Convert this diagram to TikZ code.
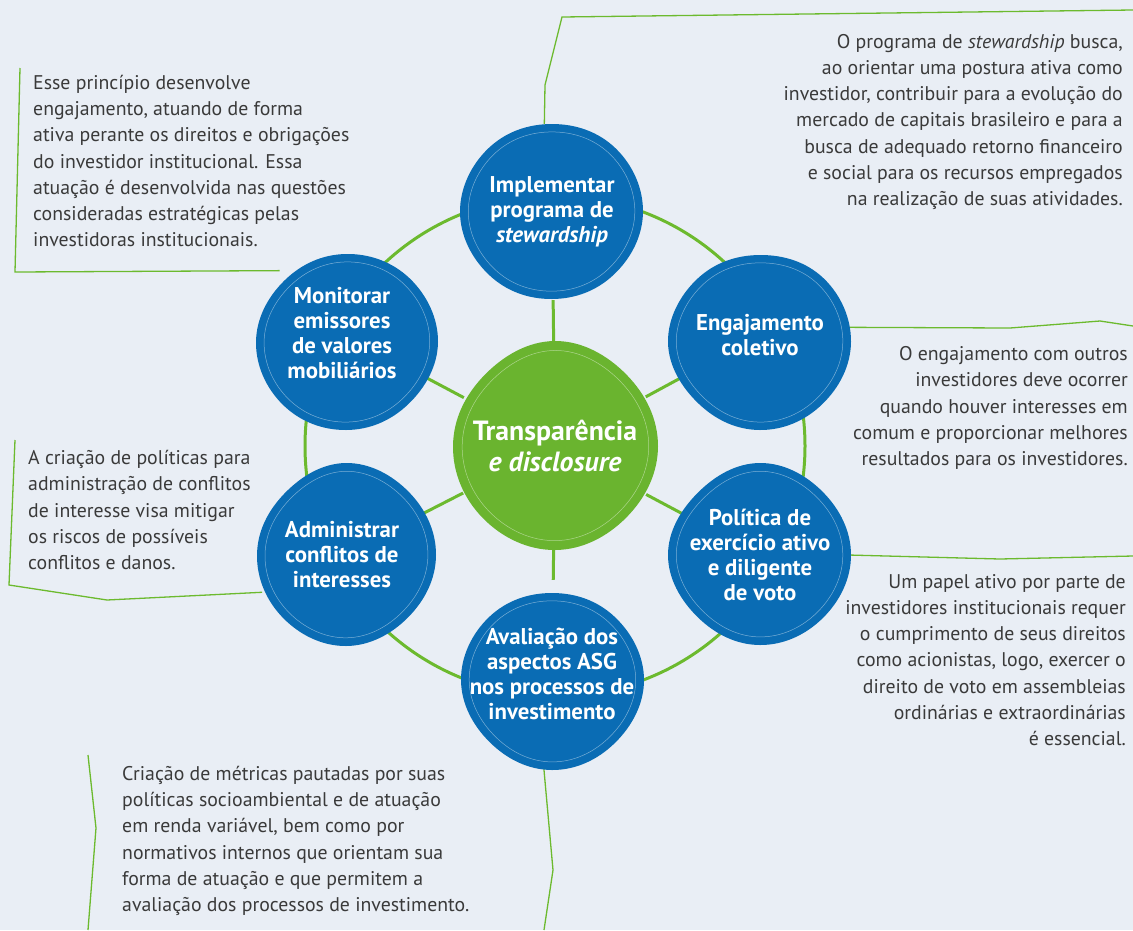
\documentclass[tikz,border=0pt]{standalone}
\usepackage{fontspec}
\setmainfont{PT Sans}
\usetikzlibrary{backgrounds}

\definecolor{paper}{HTML}{E9EEF5}
\definecolor{blobblue}{HTML}{0A6CB4}
\definecolor{blobgreen}{HTML}{6AB42F}
\definecolor{linegreen}{HTML}{6CBA2E}
\definecolor{textgrey}{HTML}{3A3A3A}

% irregular round shape behind a node
\newcommand{\blobshape}[4][]{%
  \begin{scope}[shift={(#2)}, #1]
    \fill[#3] plot[smooth cycle, tension=0.68] coordinates {#4};
    \draw[white, opacity=0.45, line width=0.5pt, scale=0.91] plot[smooth cycle, tension=0.68] coordinates {#4};
  \end{scope}}

\begin{document}
\begin{tikzpicture}[x=1pt, y=-1pt,
  blob/.style={circle, minimum size=176pt, inner sep=0pt, align=center, text=white,
    font=\fontsize{22.8}{25}\selectfont\bfseries},
  desc/.style={inner sep=0pt, text=textgrey, font=\fontsize{19.8}{26.3}\selectfont},
  spoke/.style={draw=linegreen, line width=3pt},
  leader/.style={draw=linegreen, line width=1.3pt}]
\useasboundingbox (0,0) rectangle (1133,930);

% hub and principles
\node[blob, minimum size=206pt, font=\fontsize{27.8}{31}\selectfont\bfseries] (ctr) at (555,446) {Transparência\\ \textit{e disclosure}};
\node[blob] (impl) at (552,212) {Implementar\\ programa de\\ \textit{stewardship}};
\node[blob] (eng) at (760,335) {Engajamento\\ coletivo};
\node[blob] (pol) at (760,555) {Política de\\ exercício ativo\\ e diligente\\ de voto};
\node[blob] (aval) at (552,674) {Avaliação dos\\ aspectos ASG\\ nos processos de\\ investimento};
\node[blob] (adm) at (342,555) {Administrar\\ conflitos de\\ interesses};
\node[blob] (mon) at (342,333) {Monitorar\\ emissores\\ de valores\\ mobiliários};

% descriptions
\node[desc, anchor=east, align=right] (dimpl) at (1123,122) {O programa de \textit{stewardship} busca,\\ ao orientar uma postura ativa como\\ investidor, contribuir para a evolução do\\ mercado de capitais brasileiro e para a\\ busca de adequado retorno financeiro\\ e social para os recursos empregados\\ na realização de suas atividades.};
\node[desc, anchor=west, align=left] (dmon) at (33,161) {Esse princípio desenvolve\\ engajamento, atuando de forma\\ ativa perante os direitos e obrigações\\ do investidor institucional. Essa\\ atuação é desenvolvida nas questões\\ consideradas estratégicas pelas\\ investidoras institucionais.};
\node[desc, anchor=east, align=right] (deng) at (1128,408) {O engajamento com outros\\ investidores deve ocorrer\\ quando houver interesses em\\ comum e proporcionar melhores\\ resultados para os investidores.};
\node[desc, anchor=east, align=right] (dpol) at (1126,660) {Um papel ativo por parte de\\ investidores institucionais requer\\ o cumprimento de seus direitos\\ como acionistas, logo, exercer o\\ direito de voto em assembleias\\ ordinárias e extraordinárias\\ é essencial.};
\node[desc, anchor=west, align=left] (dadm) at (28,510) {A criação de políticas para\\ administração de conflitos\\ de interesse visa mitigar\\ os riscos de possíveis\\ conflitos e danos.};
\node[desc, anchor=west, align=left] (daval) at (122,841) {Criação de métricas pautadas por suas\\ políticas socioambiental e de atuação\\ em renda variável, bem como por\\ normativos internos que orientam sua\\ forma de atuação e que permitem a\\ avaliação dos processos de investimento.};

\begin{scope}[on background layer]
\fill[paper] (0,0) rectangle (1133,930);
\draw[spoke] (ctr) circle[radius=250];
\foreach \n in {impl,eng,pol,aval,adm,mon}
  \draw[spoke] (ctr) -- (\n);

% leader lines
\draw[leader] (impl.95) -- (545,85) -- (562,17) -- (1133,10);
\draw[leader] (mon.135) -- (15,272) -- (20,68);
\draw[leader] (eng.5) -- (1010,328) -- (1100,321) -- (1133,326);
\draw[leader] (pol.east) -- (1000,559) -- (1133,556);
\draw[leader] (adm.205) -- (107,600) -- (9,585) -- (15,440);
\draw[leader] (88,755) -- (96,828) -- (88,930);
\draw[leader] (aval.265) -- (553,870) -- (544,930);

% blobs
\blobshape{ctr}{blobgreen}{(0:103) (45:101) (90:104) (135:102) (180:102) (225:100) (270:105) (315:101)}
\blobshape{impl}{blobblue}{(0:91) (45:88) (90:87) (135:89) (180:92) (225:90) (270:88) (315:90)}
\blobshape[yshift=-7pt]{eng}{blobblue}{(0:91) (45:88) (90:88) (135:87) (180:92) (225:89) (270:87) (315:90)}
\blobshape{pol}{blobblue}{(0:91) (45:89) (90:90) (135:88) (180:92) (225:88) (270:92) (315:89)}
\blobshape[yshift=-6pt]{aval}{blobblue}{(0:92) (45:89) (90:90) (135:88) (180:91) (225:89) (270:87) (315:89)}
\blobshape[xshift=4pt]{adm}{blobblue}{(0:90) (45:88) (90:91) (135:89) (180:89) (225:87) (270:92) (315:89)}
\blobshape[xshift=4pt, yshift=-9pt]{mon}{blobblue}{(0:92) (45:88) (90:88) (135:89) (180:90) (225:87) (270:88) (315:90)}
\end{scope}
\end{tikzpicture}
\end{document}
